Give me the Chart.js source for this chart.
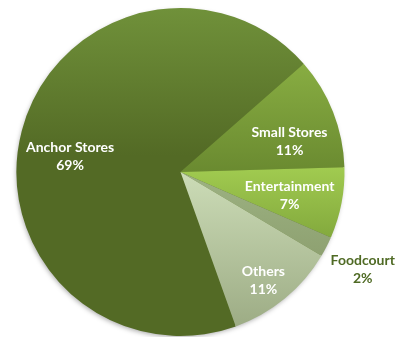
<!DOCTYPE html>
<html>
<head>
<meta charset="utf-8">
<script src="https://cdn.jsdelivr.net/npm/chart.js@4"></script>
<style>
  html, body { margin: 0; padding: 0; background: #fff; }
  #wrap { width: 396px; height: 337px; }
</style>
</head>
<body>
<div id="wrap"><canvas id="mallChart"></canvas></div>
<script>
const categories = ['Anchor Stores', 'Small Stores', 'Entertainment', 'Foodcourt', 'Others'];
const shares = [69, 11, 7, 2, 11];
const topColors = ['#70913a', '#88ad42', '#a1cb50', '#9db282', '#ccdcb7'];
const bottomColors = ['#536a25', '#6a8a30', '#83a93d', '#8ea171', '#9dac85'];

// label placement: distance from centre (fraction of radius) and angle nudge (deg)
const labelRadius = [0.68, 0.69, 0.68, 1.26, 0.83];
const labelNudge = [-6.5, 6, 1, 1, 2];

function sliceFill(context) {
    const i = context.dataIndex;
    const arc = context.element;
    const chart = context.chart;
    if (!arc || !chart.chartArea || !isFinite(arc.outerRadius) || !isFinite(arc.y)) return bottomColors[i];
    const { y, startAngle, endAngle, outerRadius } = arc;
    // vertical extent of the slice
    let minY = y, maxY = y;
    for (let k = 0; k <= 40; k++) {
        const a = startAngle + (endAngle - startAngle) * k / 40;
        const py = y + Math.sin(a) * outerRadius;
        minY = Math.min(minY, py);
        maxY = Math.max(maxY, py);
    }
    if (!isFinite(minY) || maxY - minY < 1) return bottomColors[i];
    const g = chart.ctx.createLinearGradient(0, minY, 0, maxY);
    g.addColorStop(0, topColors[i]);
    if (i === 0) {
        g.addColorStop(0.45, bottomColors[i]);
    }
    g.addColorStop(1, bottomColors[i]);
    return g;
}

const pieShadow = {
    id: 'pieShadow',
    beforeDatasetsDraw(chart) {
        const arc = chart.getDatasetMeta(0).data[0];
        if (!arc) return;
        const ctx = chart.ctx;
        ctx.save();
        ctx.shadowColor = 'rgba(0,0,0,0.35)';
        ctx.shadowBlur = 5;
        ctx.shadowOffsetX = -1;
        ctx.shadowOffsetY = 2;
        ctx.fillStyle = '#5a7229';
        ctx.beginPath();
        ctx.arc(arc.x, arc.y, arc.outerRadius - 1, 0, Math.PI * 2);
        ctx.fill();
        ctx.restore();
    }
};

const sliceLabels = {
    id: 'sliceLabels',
    afterDatasetsDraw(chart) {
        const ctx = chart.ctx;
        const meta = chart.getDatasetMeta(0);
        ctx.save();
        ctx.font = 'bold 14px Lato, "Open Sans", sans-serif';
        ctx.textAlign = 'center';
        ctx.textBaseline = 'middle';
        meta.data.forEach((arc, i) => {
            const mid = (arc.startAngle + arc.endAngle) / 2 + labelNudge[i] * Math.PI / 180;
            const r = arc.outerRadius * labelRadius[i];
            const lx = arc.x + Math.cos(mid) * r;
            const ly = arc.y + Math.sin(mid) * r;
            ctx.fillStyle = labelRadius[i] > 1 ? '#4f6a24' : '#ffffff';
            ctx.fillText(categories[i], lx, ly - 9);
            ctx.fillText(shares[i] + '%', lx, ly + 9);
        });
        ctx.restore();
    }
};

const chart = new Chart(document.getElementById('mallChart'), {
    type: 'pie',
    data: {
        labels: categories,
        datasets: [{
            data: shares,
            backgroundColor: sliceFill,
            borderWidth: 0
        }]
    },
    options: {
        responsive: true,
        maintainAspectRatio: false,
        animation: false,
        rotation: 160.3,
        layout: { padding: { left: 16, top: 8, right: 51, bottom: 1 } },
        events: [],
        plugins: {
            legend: { display: false },
            tooltip: { enabled: false }
        }
    },
    plugins: [pieShadow, sliceLabels]
});
// second pass so the gradients can use the laid-out arc geometry
chart.update();
</script>
</body>
</html>
